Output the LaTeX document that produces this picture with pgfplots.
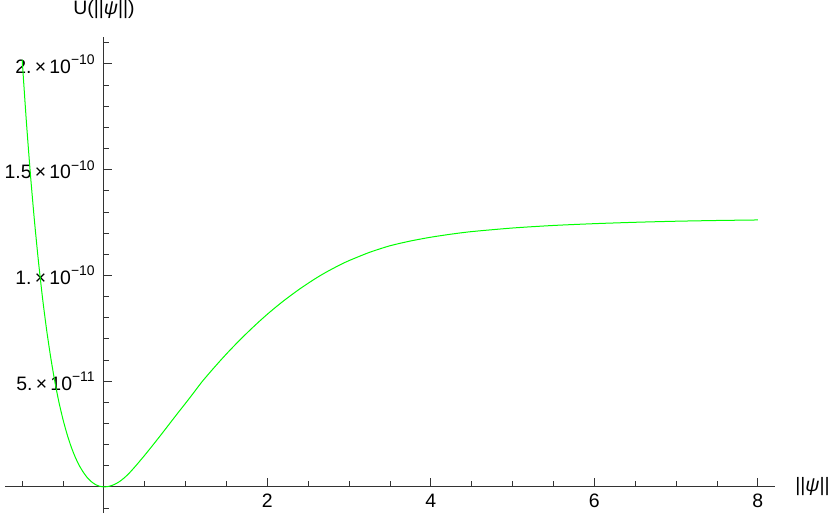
\documentclass[border=0pt]{standalone}
\usepackage{fontspec}
\setmainfont{Liberation Sans}
\usepackage{pgfplots}
\pgfplotsset{compat=1.18}

% Mathematica-style "a. x 10^-n" tick label
\newcommand{\sci}[2]{#1\,×\,10\raisebox{0.45em}{\fontsize{14}{14}\selectfont −#2}}

\begin{document}
\begin{tikzpicture}
\begin{axis}[
    scale only axis,
    width=769.7bp, height=476bp,
    axis lines=middle,
    axis line style={-, line width=0.9bp, black!80},
    xmin=-1.21, xmax=8.21,
    ymin=-1.244e-11, ymax=2.127e-10,
    xtick={2,4,6,8},
    xticklabels={2,4,6,8},
    minor xtick={-1,-0.5,0.5,1,1.5,2.5,3,3.5,4.5,5,5.5,6.5,7,7.5},
    ytick={5e-11,1e-10,1.5e-10,2e-10},
    yticklabels={\sci{5.}{11},\sci{1.}{10},\sci{1.5}{10},\sci{2.}{10}},
    minor ytick={-1e-11,1e-11,2e-11,3e-11,4e-11,6e-11,7e-11,8e-11,9e-11,
        11e-11,12e-11,13e-11,14e-11,16e-11,17e-11,18e-11,19e-11,21e-11},
    scaled y ticks=false,
    tick align=inside,
    major tick length=8.5bp,
    minor tick length=5.5bp,
    tick style={black!80, line width=0.8bp},
    tick label style={font=\fontsize{19.5}{22}\selectfont},
    yticklabel style={anchor=east, inner sep=0pt, xshift=-9bp},
    xticklabel style={anchor=north, inner sep=0pt, yshift=-7bp},
    xlabel={||\textit{ψ}||},
    ylabel={U(||\textit{ψ}||)},
    label style={font=\fontsize{19.5}{22}\selectfont},
    xlabel style={at={(current axis.right of origin)}, anchor=west, xshift=20bp, inner sep=0pt},
    ylabel style={at={(current axis.above origin)}, anchor=south, yshift=18bp, inner sep=0pt},
    clip=false,
]
\addplot[green, line width=1bp, smooth, tension=0.4] coordinates {
    (-1.0,20.2e-11) (-0.95,17.35e-11) (-0.9,14.82e-11) (-0.85,12.59e-11)
    (-0.8,10.63e-11) (-0.75,8.90e-11) (-0.7,7.40e-11) (-0.65,6.10e-11)
    (-0.6,4.97e-11) (-0.55,4.00e-11) (-0.5,3.18e-11) (-0.45,2.48e-11)
    (-0.4,1.89e-11) (-0.35,1.40e-11) (-0.3,1.00e-11) (-0.25,0.68e-11)
    (-0.2,0.42e-11) (-0.15,0.235e-11) (-0.1,0.103e-11) (-0.05,0.026e-11)
    (0,0)
    (0.05,0.017e-11) (0.1,0.07e-11) (0.15,0.155e-11) (0.2,0.275e-11)
    (0.25,0.43e-11) (0.3,0.61e-11) (0.35,0.82e-11) (0.4,1.04e-11)
    (0.5,1.50e-11) (0.6,1.98e-11) (0.7,2.47e-11) (0.8,2.97e-11)
    (0.9,3.47e-11) (1.0,3.96e-11) (1.1,4.46e-11) (1.2,4.97e-11)
    (1.3,5.425e-11) (1.4,5.865e-11) (1.5,6.29e-11) (1.6,6.695e-11)
    (1.7,7.085e-11) (1.8,7.46e-11) (1.9,7.82e-11) (2.0,8.165e-11)
    (2.1,8.49e-11) (2.2,8.80e-11) (2.3,9.09e-11) (2.4,9.37e-11)
    (2.5,9.63e-11) (2.6,9.88e-11) (2.7,10.11e-11) (2.8,10.32e-11)
    (2.9,10.52e-11) (3.0,10.70e-11) (3.25,11.09e-11) (3.5,11.40e-11)
    (3.75,11.625e-11) (4.0,11.805e-11) (4.25,11.95e-11) (4.5,12.07e-11)
    (5.0,12.24e-11) (5.5,12.36e-11) (6.0,12.445e-11) (6.5,12.51e-11)
    (7.0,12.56e-11) (7.5,12.595e-11) (8.0,12.62e-11)
};
\end{axis}
\pgfresetboundingbox
\path[use as bounding box] ([xshift=-5bp]current axis.south west)
    rectangle ([xshift=55bp,yshift=37bp]current axis.north east);
\end{tikzpicture}
\end{document}
